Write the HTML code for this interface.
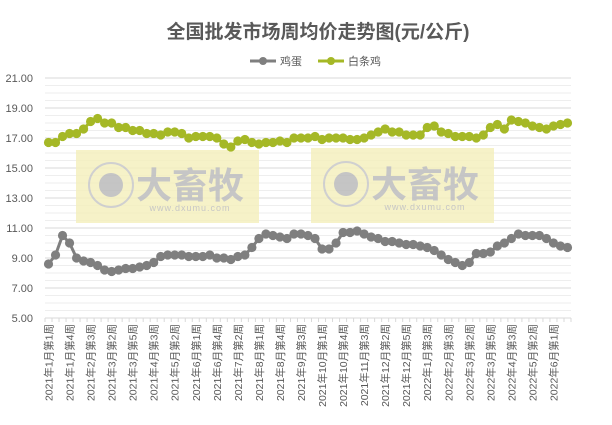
<!DOCTYPE html>
<html><head><meta charset="utf-8"><style>
body{margin:0;background:#fff;}
svg{display:block;font-family:"Liberation Sans","Noto Sans CJK SC",sans-serif;}
</style></head><body>
<svg id="c" width="612" height="425" viewBox="0 0 612 425" xmlns="http://www.w3.org/2000/svg">
<text x="318" y="38" text-anchor="middle" font-size="19" font-weight="bold" fill="#595959">全国批发市场周均价走势图(元/公斤)</text>
<line x1="250" y1="61" x2="276" y2="61" stroke="#7f7f7f" stroke-width="3"/><circle cx="263" cy="61" r="4" fill="#7f7f7f"/>
<text x="280" y="65" font-size="11" fill="#595959">鸡蛋</text>
<line x1="318" y1="61" x2="344" y2="61" stroke="#a5b826" stroke-width="3"/><circle cx="331" cy="61" r="4" fill="#a5b826"/>
<text x="348" y="65" font-size="11" fill="#595959">白条鸡</text>
<g id="grid"></g>
<g opacity="0.85">
<rect x="76" y="150" width="183" height="73" fill="#f5f0bf"/>
<rect x="311" y="148" width="183" height="75" fill="#f5f0bf"/>
<g fill="none" stroke="#c8c8c8" stroke-width="2"><circle cx="111" cy="185" r="22"/><circle cx="346" cy="184" r="22"/></g>
<circle cx="111" cy="185" r="12" fill="#bbb"/><circle cx="346" cy="184" r="12" fill="#bbb"/>
<text x="190" y="198" text-anchor="middle" font-size="36" font-weight="bold" fill="#bdbdbd">大畜牧</text>
<text x="425" y="197" text-anchor="middle" font-size="36" font-weight="bold" fill="#bdbdbd">大畜牧</text>
<text x="190" y="211" text-anchor="middle" font-size="9" fill="#bdbdbd" letter-spacing="1">www.dxumu.com</text>
<text x="425" y="210" text-anchor="middle" font-size="9" fill="#bdbdbd" letter-spacing="1">www.dxumu.com</text>
</g>
<g id="data"></g>
</svg>
<script>
var ns="http://www.w3.org/2000/svg",g=document.getElementById('grid'),d=document.getElementById('data');
function el(p,t,a){var e=document.createElementNS(ns,t);for(var k in a)e.setAttribute(k,a[k]);p.appendChild(e);return e;}
function Y(v){return 318-(v-5)*15;}
for(var v=5;v<=21.001;v+=0.5){var maj=Math.abs(v%2-1)<0.01;el(g,'line',{x1:45,x2:571,y1:Y(v),y2:Y(v),stroke:maj?'#d9d9d9':'#eeeeee','stroke-width':1});}
for(var v=5;v<=21;v+=2){var t=el(g,'text',{x:33,y:Y(v)+4,'text-anchor':'end','font-size':11,fill:'#595959'});t.textContent=v.toFixed(2);}
var N=75,sp=526/75;function X(i){return 45+sp/2+sp*i;}
for(var i=0;i<=N;i++)el(g,'line',{x1:45+sp*i,x2:45+sp*i,y1:318,y2:322,stroke:'#d9d9d9'});
var labs=["2021年1月第1周","2021年1月第4周","2021年2月第3周","2021年3月第2周","2021年3月第5周","2021年4月第3周","2021年5月第2周","2021年6月第1周","2021年6月第4周","2021年7月第2周","2021年8月第1周","2021年8月第4周","2021年9月第3周","2021年10月第1周","2021年10月第4周","2021年11月第3周","2021年12月第2周","2021年12月第5周","2022年1月第3周","2022年2月第3周","2022年3月第2周","2022年3月第5周","2022年4月第3周","2022年5月第2周","2022年6月第1周"];
labs.forEach(function(s,k){var x=X(k*3)+4,t=el(g,'text',{x:x,y:324,'text-anchor':'end','font-size':10.5,fill:'#595959',transform:'rotate(-90 '+x+' 324)'});t.textContent=s;});
var egg=[8.6,9.2,10.5,10.0,9.0,8.8,8.7,8.5,8.2,8.1,8.2,8.3,8.3,8.4,8.5,8.7,9.1,9.2,9.2,9.2,9.1,9.1,9.1,9.2,9.0,9.0,8.9,9.1,9.2,9.7,10.3,10.6,10.5,10.4,10.3,10.6,10.6,10.5,10.3,9.6,9.6,10.0,10.7,10.7,10.8,10.6,10.4,10.3,10.1,10.1,10.0,9.9,9.9,9.8,9.7,9.5,9.2,8.9,8.7,8.5,8.7,9.3,9.3,9.4,9.8,10.0,10.3,10.6,10.5,10.5,10.5,10.3,10.0,9.8,9.7];
var chk=[16.7,16.7,17.1,17.3,17.3,17.6,18.1,18.3,18.0,18.0,17.7,17.7,17.5,17.5,17.3,17.3,17.2,17.4,17.4,17.3,17.0,17.1,17.1,17.1,17.0,16.6,16.4,16.8,16.9,16.7,16.6,16.7,16.7,16.8,16.7,17.0,17.0,17.0,17.1,16.9,17.0,17.0,17.0,16.9,16.9,17.0,17.2,17.4,17.6,17.4,17.4,17.2,17.2,17.2,17.7,17.8,17.4,17.3,17.1,17.1,17.1,17.0,17.2,17.7,17.9,17.6,18.2,18.1,18.0,17.8,17.7,17.6,17.8,17.9,18.0];
[[egg,'#7f7f7f'],[chk,'#a5b826']].forEach(function(s){var p=s[0].map(function(v,i){return X(i).toFixed(1)+','+Y(v).toFixed(1);}).join(' ');
el(d,'polyline',{points:p,fill:'none',stroke:s[1],'stroke-width':3,'stroke-linejoin':'round'});
s[0].forEach(function(v,i){el(d,'circle',{cx:X(i),cy:Y(v),r:4.6,fill:s[1]});});});
</script>
</body></html>
